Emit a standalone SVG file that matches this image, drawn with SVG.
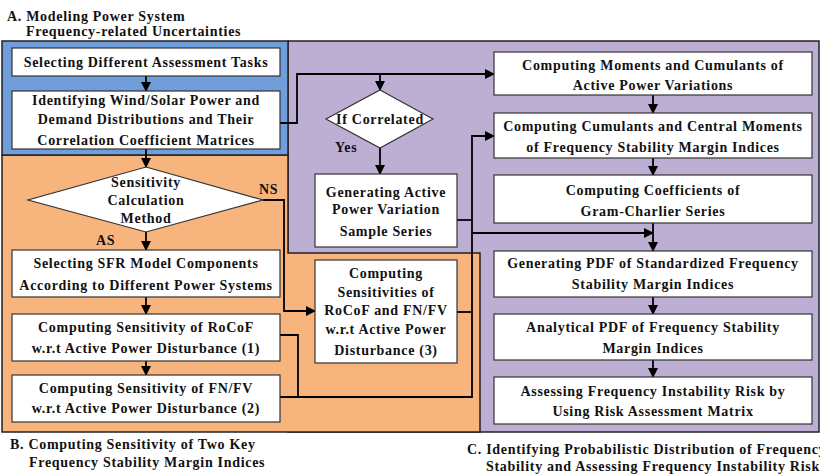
<svg xmlns="http://www.w3.org/2000/svg" width="820" height="475" viewBox="0 0 820 475">
<defs>
<marker id="ah" markerWidth="10" markerHeight="10" refX="9" refY="5" orient="auto" markerUnits="userSpaceOnUse">
<path d="M0,0 L10,5 L0,10 Z" fill="#000"/>
</marker>
<style>
text{font-family:"Liberation Serif","Times New Roman",serif;font-weight:bold;font-size:14px;letter-spacing:0.7px;fill:#111;}
.c{text-anchor:middle;}
.box{fill:#fff;stroke:#333;stroke-width:1.2;}
.reg{stroke:#222;stroke-width:1.5;}
.ln{fill:none;stroke:#000;stroke-width:1.8;}
.ar{fill:none;stroke:#000;stroke-width:1.8;marker-end:url(#ah);}
</style>
</defs>
<rect width="820" height="475" fill="#fff"/>
<g id="regions">
<rect class="reg" x="288" y="41" width="531" height="391" fill="#bdafd3"/>
<path class="reg" d="M2,155 H288 V253 H480 V432 H2 Z" fill="#f7b47c"/>
<rect class="reg" x="2" y="41" width="286" height="114" fill="#6f9edb"/>
</g>
<g id="titles">
<text x="7" y="21">A. Modeling Power System</text>
<text x="26" y="36">Frequency-related Uncertainties</text>
<text x="10" y="449">B. Computing Sensitivity of Two Key</text>
<text x="29" y="467">Frequency Stability Margin Indices</text>
<text x="467" y="454">C. Identifying Probabilistic Distribution of Frequency</text>
<text x="486" y="471">Stability and Assessing Frequency Instability Risk</text>
</g>
<g id="connectors">
<line class="ar" x1="146" y1="76" x2="146" y2="91"/>
<line class="ar" x1="146" y1="149" x2="146" y2="167"/>
<line class="ar" x1="146" y1="232" x2="146" y2="250"/>
<line class="ar" x1="146" y1="297" x2="146" y2="314"/>
<line class="ar" x1="146" y1="361" x2="146" y2="375"/>
<path class="ar" d="M263,200 H284 V311 H315"/>
<path class="ar" d="M280,123 H297 V74 H494"/>
<path class="ar" d="M380,74 V90"/>
<path class="ar" d="M380,148 V174"/>
<path class="ln" d="M457,220 H472"/>
<path class="ln" d="M280,335 H298 V397"/>
<path class="ar" d="M280,397 H472 V136 H494"/>
<path class="ln" d="M457,312 H472"/>
<path class="ar" d="M472,233 H653"/>
<line class="ar" x1="653" y1="95" x2="653" y2="113"/>
<line class="ar" x1="653" y1="158" x2="653" y2="175"/>
<line class="ar" x1="653" y1="223" x2="653" y2="251"/>
<line class="ar" x1="653" y1="297" x2="653" y2="314"/>
<line class="ar" x1="653" y1="360" x2="653" y2="377"/>
</g>
<g id="a1"><rect class="box" x="12" y="48" width="268" height="28"/><text class="c" x="146" y="67">Selecting Different Assessment Tasks</text></g>
<g id="a2"><rect class="box" x="12" y="91" width="268" height="58"/><text class="c" x="146" y="105">Identifying Wind/Solar Power and</text><text class="c" x="146" y="124">Demand Distributions and Their</text><text class="c" x="146" y="145">Correlation Coefficient Matrices</text></g>
<g id="d1"><path class="box" d="M146,167 L263,200 L146,232 L28,200 Z"/><text class="c" x="146" y="187">Sensitivity</text><text class="c" x="146" y="205">Calculation</text><text class="c" x="146" y="223">Method</text></g>
<g id="lbl"><text x="259" y="194">NS</text><text x="96" y="245">AS</text><text x="335" y="152">Yes</text></g>
<g id="b1"><rect class="box" x="12" y="250" width="268" height="47"/><text class="c" x="146" y="268">Selecting SFR Model Components</text><text class="c" x="146" y="290">According to Different Power Systems</text></g>
<g id="b2"><rect class="box" x="12" y="314" width="268" height="47"/><text class="c" x="146" y="332">Computing Sensitivity of RoCoF</text><text class="c" x="146" y="353">w.r.t Active Power Disturbance (1)</text></g>
<g id="b3"><rect class="box" x="12" y="375" width="268" height="47"/><text class="c" x="146" y="393">Computing Sensitivity of FN/FV</text><text class="c" x="146" y="413">w.r.t Active Power Disturbance (2)</text></g>
<g id="b4"><rect class="box" x="315" y="260" width="142" height="103"/><text class="c" x="386" y="278">Computing</text><text class="c" x="386" y="297">Sensitivities of</text><text class="c" x="386" y="315">RoCoF and FN/FV</text><text class="c" x="386" y="334">w.r.t Active Power</text><text class="c" x="386" y="355">Disturbance (3)</text></g>
<g id="d2"><path class="box" d="M380,90 L433,119 L380,148 L326,119 Z"/><text class="c" x="380" y="124">If Correlated</text></g>
<g id="s1"><rect class="box" x="315" y="174" width="142" height="73"/><text class="c" x="386" y="197">Generating Active</text><text class="c" x="386" y="214">Power Variation</text><text class="c" x="386" y="236">Sample Series</text></g>
<g id="c1"><rect class="box" x="494" y="52" width="318" height="43"/><text class="c" x="653" y="70">Computing Moments and Cumulants of</text><text class="c" x="653" y="90">Active Power Variations</text></g>
<g id="c2"><rect class="box" x="494" y="113" width="318" height="45"/><text class="c" x="653" y="131">Computing Cumulants and Central Moments</text><text class="c" x="653" y="152">of Frequency Stability Margin Indices</text></g>
<g id="c3"><rect class="box" x="494" y="175" width="318" height="48"/><text class="c" x="653" y="195">Computing Coefficients of</text><text class="c" x="653" y="216">Gram-Charlier Series</text></g>
<g id="c4"><rect class="box" x="494" y="251" width="318" height="46"/><text class="c" x="653" y="268">Generating PDF of Standardized Frequency</text><text class="c" x="653" y="289">Stability Margin Indices</text></g>
<g id="c5"><rect class="box" x="494" y="314" width="318" height="46"/><text class="c" x="653" y="332">Analytical PDF of Frequency Stability</text><text class="c" x="653" y="353">Margin Indices</text></g>
<g id="c6"><rect class="box" x="494" y="377" width="318" height="47"/><text class="c" x="653" y="396">Assessing Frequency Instability Risk by</text><text class="c" x="653" y="416">Using Risk Assessment Matrix</text></g>
</svg>
